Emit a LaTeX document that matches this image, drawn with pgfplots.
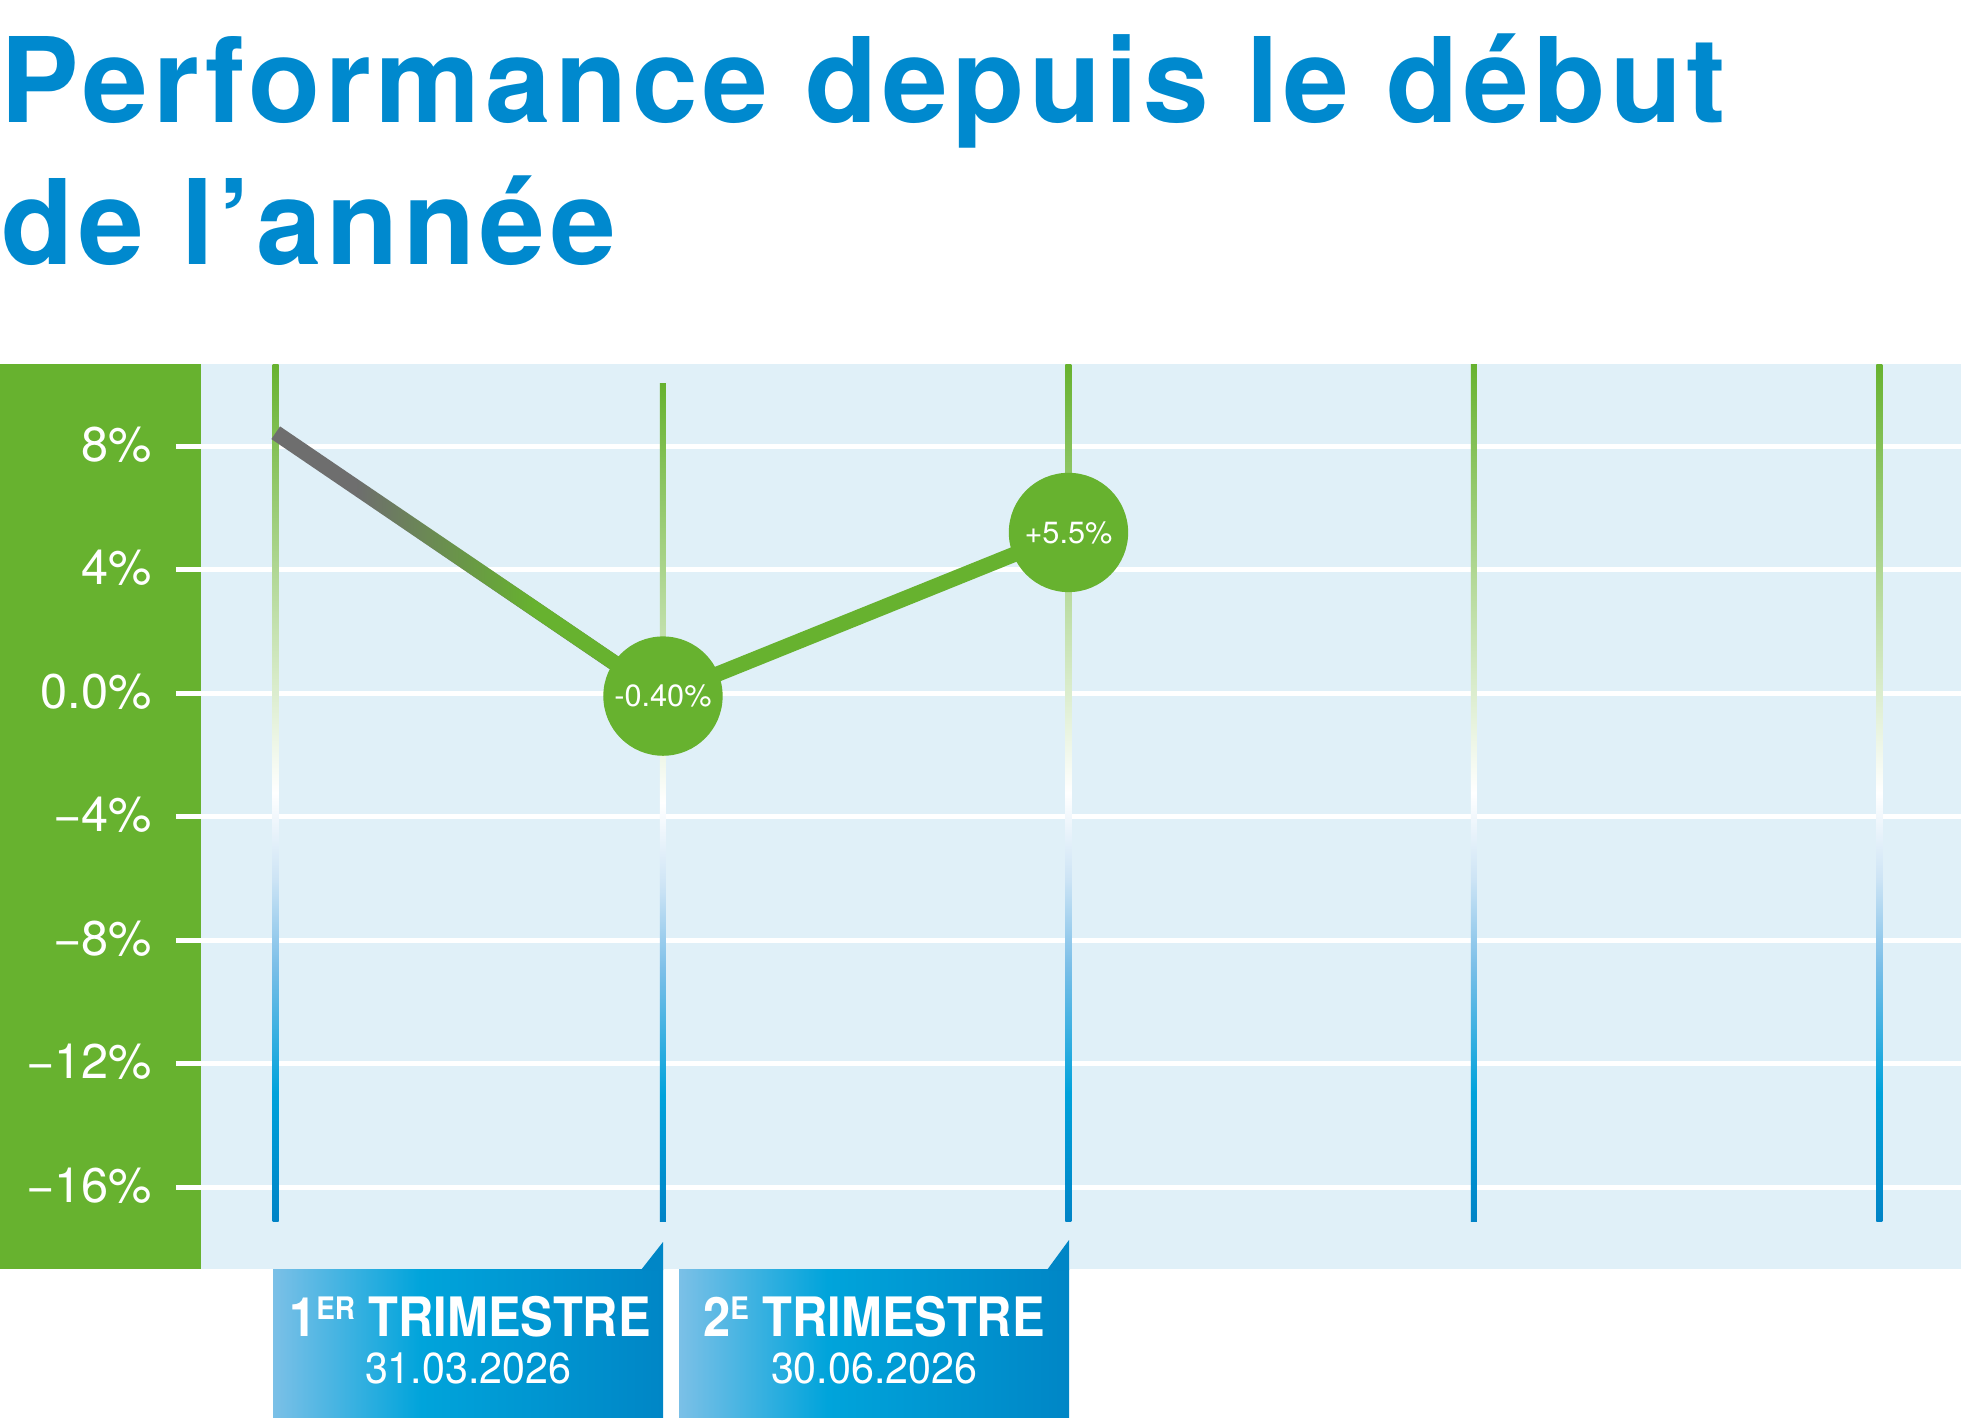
\documentclass[border=0pt]{standalone}
\usepackage{fontspec}
\setmainfont{TeX Gyre Heros}
\newfontfamily\titlefont[LetterSpace=3.9]{TeX Gyre Heros}
\usepackage{pgfplots}
\pgfplotsset{compat=1.18}
\usetikzlibrary{fadings}

\definecolor{cgreen}{RGB}{103,178,47}
\definecolor{bgblue}{RGB}{224,240,248}
\definecolor{tblue}{RGB}{0,137,206}
\definecolor{lgray}{RGB}{110,110,110}
\definecolor{lineD}{RGB}{0,131,198}
\definecolor{lineC}{RGB}{0,162,219}
\definecolor{lineLB}{RGB}{124,191,232}
\definecolor{lineVLB}{RGB}{205,228,245}
\definecolor{boxL}{RGB}{123,192,231}
\definecolor{boxM}{RGB}{0,164,219}
\definecolor{boxR}{RGB}{0,134,198}

\pgfdeclareverticalshading{vline}{100bp}{color(0bp)=(lineD); color(25bp)=(lineD); color(32.5bp)=(lineC); color(40bp)=(lineLB); color(45bp)=(lineVLB); color(50bp)=(white); color(75bp)=(cgreen); color(100bp)=(cgreen)}
\pgfdeclarehorizontalshading{boxgrad}{100bp}{color(0bp)=(boxL); color(25bp)=(boxL); color(44bp)=(boxM); color(75bp)=(boxR); color(100bp)=(boxR)}
\pgfdeclarehorizontalshading{segfadesh}{100bp}{color(0bp)=(black); color(25bp)=(black); color(36bp)=(black); color(58bp)=(white); color(100bp)=(white)}
\tikzfading[name=segfade, shading=segfadesh]

\begin{document}
\begin{tikzpicture}[x=0.3pt,y=0.3pt]
\useasboundingbox (0,0) rectangle (1961,1417);
% title
\node[anchor=base west, inner sep=0pt, text=tblue, font=\titlefont\bfseries\fontsize{35.4pt}{42.8pt}\selectfont] at (0,1294) {Performance depuis le début};
\node[anchor=base west, inner sep=0pt, text=tblue, font=\titlefont\bfseries\fontsize{35.4pt}{42.8pt}\selectfont] at (1,1152) {de l’année};
% green side panel
\fill[cgreen] (0,148) rectangle (201,1053);
\begin{axis}[
  at={(60.3pt,44.4pt)}, anchor=south west,
  width=528pt, height=271.5pt, scale only axis,
  xmin=-0.1393, xmax=4.2010, ymin=-18.656, ymax=10.656,
  axis line style={draw=none},
  axis background/.style={fill=bgblue},
  xtick=\empty,
  ytick={-16,-12,-8,-4,0,4,8},
  yticklabels={−16\%,−12\%,−8\%,−4\%,0.0\%,4\%,8\%},
  ytick pos=left,
  ymajorgrids, grid style={white, line width=1.5pt},
  tick align=outside, major tick length=7.5pt,
  ytick style={white, line width=1.5pt},
  yticklabel style={anchor=east, inner sep=0pt, xshift=-7.05pt, yshift=0.5pt, text=white, font=\fontsize{14.6pt}{14.6pt}\selectfont},
]
% quarter separators
\shade[shading=vline] (axis cs:0.0376,-17.13) rectangle (axis cs:0.0524,10.656);
\shade[shading=vline] (axis cs:0.9926,-17.13) rectangle (axis cs:1.0074,10.04);
\shade[shading=vline] (axis cs:1.9926,-17.13) rectangle (axis cs:2.0074,10.656);
\shade[shading=vline] (axis cs:2.9926,-17.13) rectangle (axis cs:3.0074,10.656);
\shade[shading=vline] (axis cs:3.9926,-17.13) rectangle (axis cs:4.0074,10.656);
% performance line
\addplot[color=lgray, line width=4.6pt, line cap=butt] coordinates {(0.045,8.43) (1,-0.1)};
\addplot[color=cgreen, line width=4.6pt, line cap=butt, path fading=segfade] coordinates {(0.045,8.43) (1,-0.1)};
\addplot[color=cgreen, line width=4.6pt] coordinates {(1,-0.1) (2,5.2)};
% bubbles
\addplot[cgreen, only marks, mark=*, mark size=17.7pt, mark options={fill=cgreen, draw=none},
  point meta=explicit symbolic, nodes near coords,
  nodes near coords style={anchor=center, text=white, inner sep=0pt, font=\fontsize{9.2pt}{9.2pt}\selectfont}]
  coordinates {(1,-0.1) [{-0.40\%}] (2,5.2) [{+5.5\%}]};
\end{axis}
% quarter boxes
\shade[shading=boxgrad] (273,0) rectangle (663,148);
\fill[boxR] (641,147) -- (663,175) -- (663,147) -- cycle;
\shade[shading=boxgrad] (679,0) rectangle (1069,148);
\fill[boxR] (1047,147) -- (1069,177) -- (1069,147) -- cycle;
\node[anchor=base, inner sep=0pt, text=white, font=\bfseries\fontsize{16.3pt}{16.3pt}\selectfont] at (470,81) {\scalebox{0.9}[1]{1\raisebox{5pt}{\fontsize{9.3pt}{9.3pt}\selectfont ER} TRIMESTRE}};
\node[anchor=base, inner sep=0pt, text=white, font=\fontsize{13pt}{13pt}\selectfont] at (468,34) {\scalebox{0.95}[1]{31.03.2026}};
\node[anchor=base, inner sep=0pt, text=white, font=\bfseries\fontsize{16.3pt}{16.3pt}\selectfont] at (874,81) {\scalebox{0.9}[1]{2\raisebox{5pt}{\fontsize{9.3pt}{9.3pt}\selectfont E} TRIMESTRE}};
\node[anchor=base, inner sep=0pt, text=white, font=\fontsize{13pt}{13pt}\selectfont] at (874,34) {\scalebox{0.95}[1]{30.06.2026}};
\end{tikzpicture}
\end{document}
